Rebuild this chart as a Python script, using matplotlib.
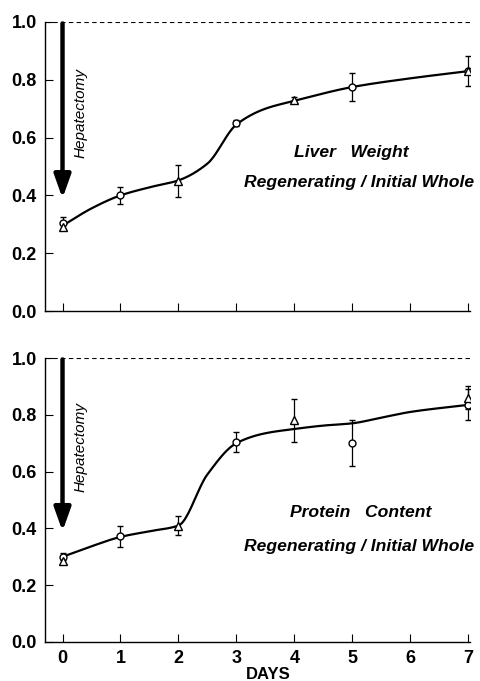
import numpy as np
import matplotlib
matplotlib.use("Agg")
import matplotlib.pyplot as plt

days = [0, 1, 2, 3, 4, 5, 6, 7]

# Top panel: liver weight (regenerating / initial whole)
lw_circ_x = [0, 1, 3, 5, 7]
lw_circ_y = [0.305, 0.40, 0.65, 0.775, 0.83]
lw_circ_err = [0.02, 0.03, 0.01, 0.05, 0.0]
lw_tri_x = [0, 2, 4, 7]
lw_tri_y = [0.29, 0.45, 0.73, 0.83]
lw_tri_err = [0.01, 0.055, 0.012, 0.052]
lw_curve_x = [0, 0.5, 1, 1.5, 2, 2.5, 3, 3.5, 4, 5, 6, 7]
lw_curve_y = [0.295, 0.355, 0.40, 0.428, 0.452, 0.51, 0.645, 0.70, 0.727, 0.775, 0.805, 0.83]

# Bottom panel: protein content (regenerating / initial whole)
pc_circ_x = [0, 1, 3, 5, 7]
pc_circ_y = [0.30, 0.372, 0.705, 0.70, 0.835]
pc_circ_err = [0.012, 0.038, 0.035, 0.082, 0.055]
pc_tri_x = [0, 2, 4, 7]
pc_tri_y = [0.285, 0.41, 0.78, 0.86]
pc_tri_err = [0.008, 0.032, 0.075, 0.04]
pc_curve_x = [0, 0.5, 1, 1.5, 2, 2.5, 3, 3.5, 4, 4.5, 5, 5.5, 6, 7]
pc_curve_y = [0.30, 0.337, 0.37, 0.39, 0.41, 0.59, 0.70, 0.735, 0.75, 0.762, 0.77, 0.79, 0.81, 0.835]

xticks = [0, 1, 2, 3, 4, 5, 6, 7]
yticks = [0.0, 0.2, 0.4, 0.6, 0.8, 1.0]
ytick_labels = ["0.0", "0.2", "0.4", "0.6", "0.8", "1.0"]


def pchip(x, y, xs):
    x = np.asarray(x, float); y = np.asarray(y, float)
    h = np.diff(x); d = np.diff(y) / h
    m = np.zeros_like(y)
    for k in range(1, len(x) - 1):
        if d[k - 1] * d[k] > 0:
            w1 = 2 * h[k] + h[k - 1]; w2 = h[k] + 2 * h[k - 1]
            m[k] = (w1 + w2) / (w1 / d[k - 1] + w2 / d[k])
    m[0] = d[0]; m[-1] = d[-1]
    idx = np.clip(np.searchsorted(x, xs) - 1, 0, len(h) - 1)
    t = (xs - x[idx]) / h[idx]
    h00 = 2 * t**3 - 3 * t**2 + 1; h10 = t**3 - 2 * t**2 + t
    h01 = -2 * t**3 + 3 * t**2; h11 = t**3 - t**2
    return h00 * y[idx] + h10 * h[idx] * m[idx] + h01 * y[idx + 1] + h11 * h[idx] * m[idx + 1]


tickfont = dict(family="Liberation Sans", weight="bold", size=13)
labfont = dict(family="Liberation Sans", weight="bold", style="italic", size=12.6)

fig = plt.figure(figsize=(4.8, 6.81), dpi=100)
ax1 = fig.add_axes([0.094, 0.5433, 0.885, 0.4244])
ax2 = fig.add_axes([0.094, 0.0573, 0.885, 0.4170])


def panel(ax, cx, cy, ce, tx, ty, te, kx, ky, title, show_xlabels, hep_y):
    xs = np.linspace(kx[0], kx[-1], 300)
    ax.plot(xs, pchip(kx, ky, xs), color="black", lw=1.6, zorder=2)
    ax.errorbar(cx, cy, yerr=ce, fmt="o", ms=5, mfc="white", mec="black",
                mew=1.0, ecolor="black", elinewidth=0.9, capsize=2, capthick=0.9, zorder=3)
    ax.errorbar(tx, ty, yerr=te, fmt="^", ms=6, mfc="white", mec="black",
                mew=1.0, ecolor="black", elinewidth=0.9, capsize=2, capthick=0.9, zorder=3)
    ax.axhline(1.0, color="black", lw=0.8, ls=(0, (4, 3)))
    ax.set_xlim(-0.30, 7.03)
    ax.set_ylim(0, 1.0)
    for s in ["top", "right"]:
        ax.spines[s].set_visible(False)
    ax.spines["left"].set_linewidth(1.0)
    ax.spines["bottom"].set_linewidth(1.0)
    ax.set_xticks(xticks)
    ax.set_yticks(yticks)
    ax.tick_params(direction="in", length=6, width=0.8, pad=6)
    ax.set_yticklabels(ytick_labels, **tickfont)
    if show_xlabels:
        ax.set_xticklabels([str(v) for v in xticks], **tickfont)
    else:
        ax.set_xticklabels([])
    ax.annotate("", xy=(0, 0.39), xytext=(0, 0.995),
                arrowprops=dict(arrowstyle="-|>,head_width=0.5,head_length=1.4",
                                lw=3.2, color="black", shrinkA=0, shrinkB=0))
    ax.text(0.31, hep_y, "Hepatectomy", rotation=90, ha="center", va="center",
            family="Liberation Sans", style="italic", size=11)
    ax.text(title[1], title[2], title[0], ha="center", va="center", **labfont)
    ax.text(5.12, title[4], title[3], ha="center", va="center", **labfont)


panel(ax1, lw_circ_x, lw_circ_y, lw_circ_err, lw_tri_x, lw_tri_y, lw_tri_err,
      lw_curve_x, lw_curve_y,
      ("Liver   Weight", 4.98, 0.55, "Regenerating / Initial Whole", 0.443), False, 0.685)
panel(ax2, pc_circ_x, pc_circ_y, pc_circ_err, pc_tri_x, pc_tri_y, pc_tri_err,
      pc_curve_x, pc_curve_y,
      ("Protein   Content", 5.14, 0.455, "Regenerating / Initial Whole", 0.335), True, 0.687)
ax2.set_xlabel("DAYS", fontdict=dict(family="Liberation Sans", weight="bold", size=12))
ax2.xaxis.set_label_coords(0.525, -0.088)

fig.savefig("out.png", dpi=100)
